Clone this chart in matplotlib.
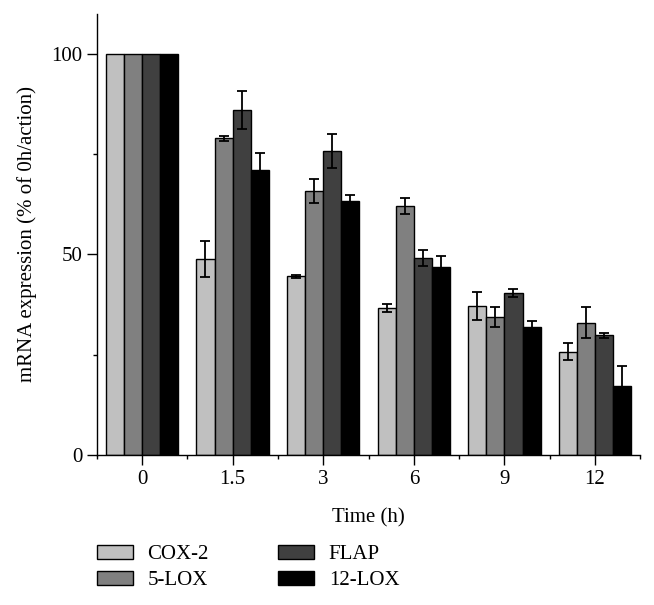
import matplotlib
matplotlib.use("Agg")
import matplotlib.pyplot as plt
import numpy as np
from matplotlib.ticker import FixedLocator

plt.rcParams['font.family'] = ['Liberation Serif', 'DejaVu Serif']

times = ['0', '1.5', '3', '6', '9', '12']
genes = ['COX-2', '5-LOX', 'FLAP', '12-LOX']
colors = ['#c0c0c0', '#808080', '#404040', '#000000']

cox2 = [100, 48.9, 44.6, 36.6, 37.2, 25.8]
lox5 = [100, 79.0, 65.8, 62.2, 34.4, 33.0]
flap = [100, 86.0, 75.8, 49.1, 40.3, 29.8]
lox12 = [100, 71.0, 63.3, 46.9, 32.0, 17.2]

cox2_err = [0, 4.5, 0.4, 1.0, 3.5, 2.0]
lox5_err = [0, 0.6, 3.0, 2.0, 2.6, 3.8]
flap_err = [0, 4.8, 4.3, 2.0, 1.0, 0.7]
lox12_err = [0, 4.2, 1.5, 2.7, 1.3, 5.0]

values = [cox2, lox5, flap, lox12]
errors = [cox2_err, lox5_err, flap_err, lox12_err]

fig = plt.figure(figsize=(6.54, 6.05), dpi=100)
ax = fig.add_axes([0.148, 0.248, 0.831, 0.729])

x = np.arange(len(times))
w = 0.2
handles = []
for i in range(4):
    pos = x + (i - 1.5) * w
    b = ax.bar(pos, values[i], w, color=colors[i], edgecolor='black',
               linewidth=1.0, label=genes[i], zorder=2)
    handles.append(b)
    yerr = np.array(errors[i], dtype=float)
    mask = yerr > 0
    ax.errorbar(pos[mask], np.array(values[i])[mask], yerr=yerr[mask], fmt='none',
                ecolor='black', elinewidth=1.3, capsize=3.3, capthick=1.3, zorder=3)

ax.set_xlim(-0.5, 5.5)
ax.set_ylim(0, 110)
ax.set_xticks(x)
ax.set_xticklabels(times)
ax.xaxis.set_minor_locator(FixedLocator(np.arange(-0.5, 5.6, 1.0)))
ax.set_yticks([0, 50, 100])
ax.yaxis.set_minor_locator(FixedLocator([25, 75]))
ax.tick_params(axis='both', which='major', direction='out', length=7, width=1.0,
               labelsize=15, colors='black')
ax.tick_params(axis='both', which='minor', direction='out', length=3, width=1.0)
ax.tick_params(axis='x', pad=4)

for s in ['top', 'right']:
    ax.spines[s].set_visible(False)
for s in ['left', 'bottom']:
    ax.spines[s].set_linewidth(1.0)

ax.set_ylabel('mRNA expression (% of 0h/action)', fontsize=15, labelpad=10)
ax.set_xlabel('Time (h)', fontsize=15, labelpad=14)

fig.legend(handles, genes, loc='upper left', bbox_to_anchor=(0.119, 0.13),
           ncol=2, frameon=False, fontsize=15, handlelength=1.75, handleheight=0.65,
           columnspacing=3.3, labelspacing=0.3, handletextpad=0.7)

fig.savefig('out.png', dpi=100)
